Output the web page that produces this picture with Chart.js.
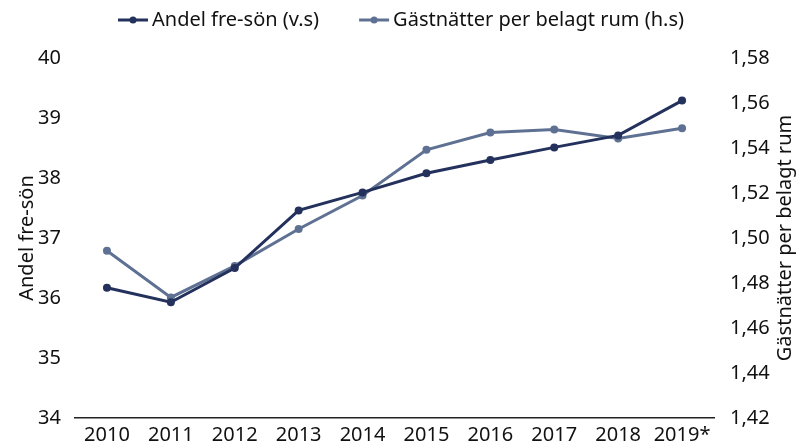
<!DOCTYPE html>
<html>
<head>
<meta charset="utf-8">
<script src="https://cdn.jsdelivr.net/npm/chart.js@4/dist/chart.umd.min.js"></script>
<style>
html,body{margin:0;padding:0;background:#fff;}
#wrap{width:798px;height:448px;}
</style>
</head>
<body>
<div id="wrap"><canvas id="c" width="798" height="448"></canvas></div>
<script>
const categories = ['2010','2011','2012','2013','2014','2015','2016','2017','2018','2019*'];
const andelFreSon = [36.17, 35.93, 36.50, 37.46, 37.76, 38.08, 38.30, 38.51, 38.71, 39.29];
const gastnatter = [1.4943, 1.4736, 1.4876, 1.5040, 1.5189, 1.5392, 1.5469, 1.5482, 1.5442, 1.5488];
const leftTicks = [34, 35, 36, 37, 38, 39, 40];
const rightTicks = [1.42, 1.44, 1.46, 1.48, 1.50, 1.52, 1.54, 1.56, 1.58];
const seriesNames = ['Andel fre-sön (v.s)', 'Gästnätter per belagt rum (h.s)'];
const leftTitle = 'Andel fre-sön';
const rightTitle = 'Gästnätter per belagt rum';

const DARK = '#23315c';
const LIGHT = '#5f7193';
const FONT = '"Noto Sans"';
const TXT = '#111';
const FS = 20;

const decorPlugin = {
  id: 'decor',
  afterDraw(chart){
    const {ctx, chartArea} = chart;
    const cy = (chartArea.top + chartArea.bottom) / 2;
    ctx.save();
    ctx.fillStyle = TXT;
    ctx.font = FS + 'px ' + FONT;
    ctx.textAlign = 'center';
    ctx.textBaseline = 'middle';
    ctx.translate(27, cy);
    ctx.rotate(-Math.PI/2);
    ctx.fillText(leftTitle, 0, 0);
    ctx.restore();
    ctx.save();
    ctx.fillStyle = TXT;
    ctx.font = FS + 'px ' + FONT;
    ctx.textAlign = 'center';
    ctx.textBaseline = 'middle';
    ctx.translate(785, cy);
    ctx.rotate(-Math.PI/2);
    ctx.fillText(rightTitle, 0, 0);
    ctx.restore();

    // legend
    ctx.save();
    ctx.font = FS + 'px ' + FONT;
    ctx.textBaseline = 'middle';
    ctx.textAlign = 'left';
    const ds = chart.data.datasets;
    const mark = 30, gapT = 4, gapItem = 40;
    const widths = ds.map(d => ctx.measureText(d.label).width);
    let total = 0;
    widths.forEach((w,i)=>{ total += mark + gapT + w + (i < widths.length-1 ? gapItem : 0); });
    let x = 401 - total/2;
    const y = 20;
    ds.forEach((d,i)=>{
      ctx.strokeStyle = d.borderColor; ctx.lineWidth = 3;
      ctx.beginPath(); ctx.moveTo(x, y); ctx.lineTo(x+mark, y); ctx.stroke();
      ctx.fillStyle = d.borderColor;
      ctx.beginPath(); ctx.arc(x+mark/2, y, 3.5, 0, Math.PI*2); ctx.fill();
      ctx.fillStyle = TXT;
      ctx.fillText(d.label, x+mark+gapT, y);
      x += mark + gapT + widths[i] + gapItem;
    });
    ctx.restore();
  }
};

new Chart(document.getElementById('c'), {
  type: 'line',
  data: {
    labels: categories,
    datasets: [
      {label: seriesNames[0], data: andelFreSon, yAxisID: 'y',
       borderColor: DARK, backgroundColor: DARK, borderWidth: 3, pointRadius: 4,
       pointBackgroundColor: DARK, pointBorderWidth: 0, tension: 0},
      {label: seriesNames[1], data: gastnatter, yAxisID: 'y1',
       borderColor: LIGHT, backgroundColor: LIGHT, borderWidth: 3, pointRadius: 4,
       pointBackgroundColor: LIGHT, pointBorderWidth: 0, tension: 0}
    ]
  },
  plugins: [decorPlugin],
  options: {
    responsive: false,
    animation: false,
    layout: {padding: {top: 58, bottom: 0, left: 0, right: 0}},
    plugins: {
      tooltip: {enabled: false},
      legend: {display: false}
    },
    scales: {
      x: {
        offset: true,
        afterFit(s){ s.height = 30; },
        grid: {display: false, drawTicks: false},
        border: {display: true, color: '#222', width: 1.5},
        ticks: {font: {family: FONT, size: FS}, color: TXT, padding: 5, maxRotation: 0}
      },
      y: {
        position: 'left', min: 34, max: 40,
        afterBuildTicks(s){ s.ticks = leftTicks.map(v=>({value:v})); },
        afterFit(s){ s.width = 75; },
        grid: {display: false, drawTicks: false},
        border: {display: false},
        ticks: {font: {family: FONT, size: FS}, color: TXT, padding: 14}
      },
      y1: {
        position: 'right', min: 1.42, max: 1.58,
        afterBuildTicks(s){ s.ticks = rightTicks.map(v=>({value:v})); },
        afterFit(s){ s.width = 84; },
        grid: {display: false, drawTicks: false},
        border: {display: false},
        ticks: {font: {family: FONT, size: FS}, color: TXT, padding: 16,
          callback: v => v.toFixed(2).replace('.', ',')}
      }
    }
  }
});
</script>
</body>
</html>
